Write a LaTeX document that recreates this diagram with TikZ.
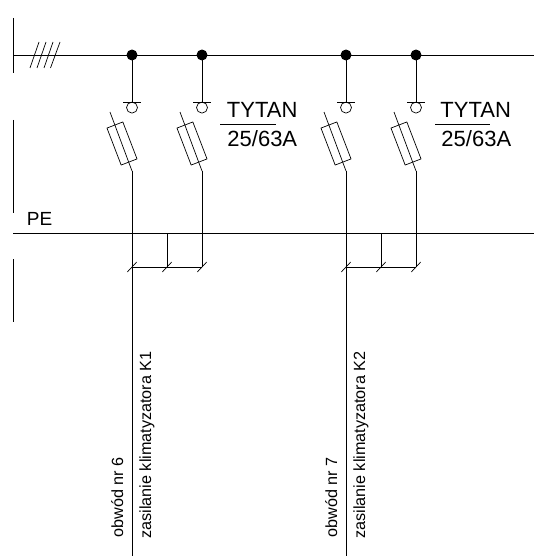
\documentclass[tikz,border=0pt]{standalone}
\usepackage{fontspec}
\setmainfont{Liberation Sans}
\usetikzlibrary{calc}

\begin{document}
\begin{tikzpicture}[-, x=1pt, y=-1pt, line width=0.9pt,
main node/.style={circle, draw, fill, inner sep=0pt, minimum size=10pt},
cup node/.style={circle, draw, line width=0.7pt, inner sep=0pt, minimum size=11pt},
fuse node/.style={rectangle, draw, line width=0.7pt, inner sep=0pt, minimum width=17pt, minimum height=39.6pt, rotate=21},
thin line/.style={line width=0.7pt},
big text/.style={anchor=base west, inner sep=0pt, font=\fontsize{22}{24}\selectfont},
pe text/.style={anchor=base west, inner sep=0pt, font=\fontsize{19}{22}\selectfont},
side text/.style={anchor=base west, inner sep=0pt, rotate=90, font=\fontsize{16.2}{19}\selectfont}]
\useasboundingbox (0,0) rectangle (534,556);
% frame on the left and the two horizontal lines
\coordinate (a1) at (13,18);
\coordinate (a2) at (13,73);
\coordinate (a3) at (13,120);
\coordinate (a4) at (13,213);
\coordinate (a5) at (13,259);
\coordinate (a6) at (13,322);
\coordinate (busl) at (13,55);
\coordinate (busr) at (534,55);
\coordinate (pel) at (13,233);
\coordinate (per) at (534,233);
\path
(a1) edge (a2)
(a3) edge (a4)
(a5) edge (a6)
(busl) edge (busr)
(pel) edge (per);
% four slashes on the bus
\coordinate (s1) at (30,68);
\coordinate (s2) at (39,42);
\coordinate (s3) at (37,68);
\coordinate (s4) at (46,42);
\coordinate (s5) at (44,68);
\coordinate (s6) at (53,42);
\coordinate (s7) at (50.5,68);
\coordinate (s8) at (60,42);
\path[thin line]
(s1) edge (s2)
(s3) edge (s4)
(s5) edge (s6)
(s7) edge (s8);
% junctions
\node[main node] (j1) at (132,55) {};
\node[main node] (j2) at (202,55) {};
\node[main node] (j3) at (346,55) {};
\node[main node] (j4) at (416,55) {};
% contacts
\node[cup node] (o1) at (132,107.6) {};
\node[cup node] (o2) at (202,107.6) {};
\node[cup node] (o3) at (346,107.6) {};
\node[cup node] (o4) at (416,107.6) {};
\coordinate (d1) at (132,102);
\coordinate (d2) at (202,102);
\coordinate (d3) at (346,102);
\coordinate (d4) at (416,102);
\coordinate (b1l) at (123,102);
\coordinate (b1r) at (140.5,102);
\coordinate (b2l) at (193,102);
\coordinate (b2r) at (210.5,102);
\coordinate (b3l) at (337,102);
\coordinate (b3r) at (354.5,102);
\coordinate (b4l) at (407,102);
\coordinate (b4r) at (424.5,102);
\path
(j1) edge (d1)
(j2) edge (d2)
(j3) edge (d3)
(j4) edge (d4);
\path[thin line]
(b1l) edge (b1r)
(b2l) edge (b2r)
(b3l) edge (b3r)
(b4l) edge (b4r);
% fuses
\node[fuse node] (f1) at (122,143.5) {};
\node[fuse node] (f2) at (192,143.5) {};
\node[fuse node] (f3) at (336,143.5) {};
\node[fuse node] (f4) at (406,143.5) {};
\coordinate (t1) at (110,112);
\coordinate (t2) at (180,112);
\coordinate (t3) at (324,112);
\coordinate (t4) at (394,112);
\coordinate (k1) at (132,171);
\coordinate (k2) at (202,171);
\coordinate (k3) at (346,171);
\coordinate (k4) at (416,171);
\path[thin line]
(t1) edge (k1)
(t2) edge (k2)
(t3) edge (k3)
(t4) edge (k4);
% outgoing lines and bridges
\coordinate (e1) at (132,556);
\coordinate (e3) at (346,556);
\coordinate (c1) at (132,267);
\coordinate (c2) at (202,267);
\coordinate (c3) at (346,267);
\coordinate (c4) at (416,267);
\coordinate (m1) at (167,233);
\coordinate (m2) at (167,267);
\coordinate (m3) at (381,233);
\coordinate (m4) at (381,267);
\path
(k1) edge (e1)
(k2) edge (c2)
(k3) edge (e3)
(k4) edge (c4)
(m1) edge (m2)
(m3) edge (m4)
(c1) edge (c2)
(c3) edge (c4);
% ticks on the bridges
\path[thin line]
($(c1)+(-4.7,5)$) edge ($(c1)+(4.7,-5)$)
($(m2)+(-4.7,5)$) edge ($(m2)+(4.7,-5)$)
($(c2)+(-4.7,5)$) edge ($(c2)+(4.7,-5)$)
($(c3)+(-4.7,5)$) edge ($(c3)+(4.7,-5)$)
($(m4)+(-4.7,5)$) edge ($(m4)+(4.7,-5)$)
($(c4)+(-4.7,5)$) edge ($(c4)+(4.7,-5)$);
% labels
\node[big text] (ty1) at (226.5,118) {TYTAN};
\node[big text] (ra1) at (227,147) {25/63A};
\node[big text] (ty2) at (440,118) {TYTAN};
\node[big text] (ra2) at (441,147) {25/63A};
\coordinate (u1) at (220,124);
\coordinate (u2) at (276,124);
\coordinate (u3) at (435,124);
\coordinate (u4) at (490,124);
\path[thin line]
(u1) edge (u2)
(u3) edge (u4);
\node[pe text] (pe) at (26.5,225) {PE};
\node[side text] (ob1) at (123,538) {obwód nr 6};
\node[side text] (za1) at (151,539) {zasilanie klimatyzatora K1};
\node[side text] (ob2) at (337,538) {obwód nr 7};
\node[side text] (za2) at (365,539) {zasilanie klimatyzatora K2};
\end{tikzpicture}
\end{document}
